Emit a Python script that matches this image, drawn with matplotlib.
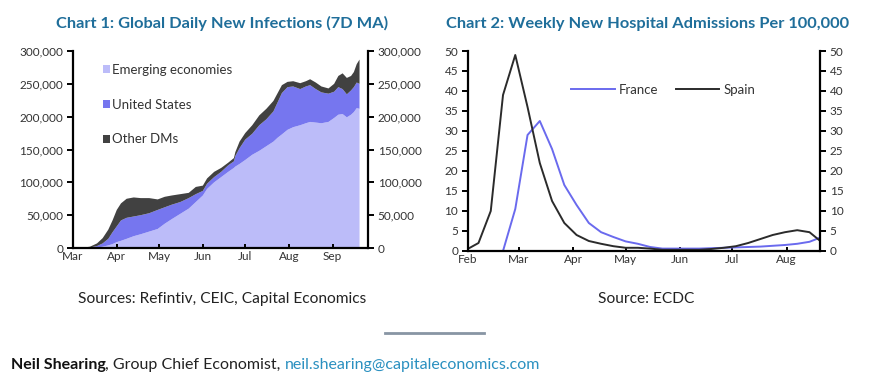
import matplotlib
matplotlib.use("Agg")
import matplotlib.pyplot as plt
import matplotlib.dates as mdates
import numpy as np
import pandas as pd

plt.rcParams['font.family'] = ['Lato', 'DejaVu Sans']

# *** DATA - CHART 1 (thousands) *** #
c1_dates = ["2020-03-01", "2020-03-08", "2020-03-13", "2020-03-18", "2020-03-22", "2020-03-26",
            "2020-03-29", "2020-04-01", "2020-04-04", "2020-04-08", "2020-04-13", "2020-04-18",
            "2020-04-24", "2020-04-30", "2020-05-05", "2020-05-10", "2020-05-16", "2020-05-22",
            "2020-05-27", "2020-06-01", "2020-06-04", "2020-06-09", "2020-06-14", "2020-06-19",
            "2020-06-23", "2020-06-24", "2020-06-27", "2020-07-01", "2020-07-06", "2020-07-11",
            "2020-07-16", "2020-07-21", "2020-07-24", "2020-07-27", "2020-07-31", "2020-08-04",
            "2020-08-09", "2020-08-13", "2020-08-16", "2020-08-20", "2020-08-24", "2020-08-29",
            "2020-09-02", "2020-09-05", "2020-09-08", "2020-09-11", "2020-09-14", "2020-09-16",
            "2020-09-18", "2020-09-20"]
emerging = [0, 0, 0.3, 1, 2, 4, 6, 9, 11, 14, 18, 21, 25, 29, 37, 44, 52, 60, 70, 80,
            90, 100, 108, 116, 122, 124, 128, 134, 142, 148, 155, 162, 168, 173, 180, 184,
            187, 190, 192, 191, 190, 192, 198, 203, 204, 199, 203, 207, 213, 212]
united_states = [0, 0, 0.5, 2, 5, 10, 18, 24, 31, 32, 30, 29, 28, 29, 25, 22, 18, 16, 12, 7,
                 8, 8, 8, 10, 10, 16, 24, 31, 32, 39, 41, 46, 54, 63, 65, 62,
                 55, 56, 56, 51, 47, 43, 40, 42, 38, 35, 37, 38, 39, 38]
other_dms = [0, 0.5, 1.2, 4, 8, 14, 18, 25, 26, 29, 29, 26, 23, 16, 16, 14, 12, 8, 11, 8,
             8, 8, 6, 4, 5, 6, 10, 10, 13, 15, 16, 16, 14, 12, 8, 8,
             9, 8, 9, 10, 9, 8, 12, 17, 24, 25, 22, 23, 28, 37]
c1_labels = ["Emerging economies", "United States", "Other DMs"]

# *** DATA - CHART 2 (weekly, per 100,000) *** #
c2_dates = pd.date_range("2020-01-31", periods=30, freq="7D")
spain = [0.3, 2, 10, 39, 49, 36, 22, 12.5, 7, 4, 2.5, 1.8, 1.2, 0.8, 0.8, 0.6, 0.3, 0.3,
         0.3, 0.3, 0.5, 0.8, 1.2, 2.0, 3.0, 4.0, 4.7, 5.2, 4.7, 2.2]
france = [np.nan, np.nan, np.nan, 0, 10.5, 29, 32.5, 25.5, 16.5, 11.5, 7, 4.7, 3.5, 2.4, 1.8,
          1.0, 0.6, 0.6, 0.6, 0.6, 0.7, 0.8, 0.9, 1.0, 1.1, 1.3, 1.5, 1.8, 2.3, 3.5]

TITLE_COL = "#1f6e9a"
TICK_COL = "#333333"
EM_COL = "#bcbcf9"
US_COL = "#7676ef"
DM_COL = "#414141"


def styleAxis(ax):
    ax.spines['top'].set_visible(False)
    for s in ['left', 'right', 'bottom']:
        ax.spines[s].set_linewidth(1.6)
        ax.spines[s].set_color("black")
    ax.tick_params(axis='y', which='both', direction='out', length=4, width=1.4,
                   left=True, right=True, labelleft=True, labelright=True,
                   labelsize=8.5, labelcolor=TICK_COL, pad=3)
    ax.tick_params(axis='x', direction='in', length=3, width=1.4,
                   labelsize=8.5, labelcolor=TICK_COL, pad=2)
    ax.xaxis.set_major_locator(mdates.MonthLocator())
    ax.xaxis.set_major_formatter(mdates.DateFormatter("%b"))


fig = plt.figure(figsize=(8.84, 3.72), dpi=100)

# ************ #
# *** CH 1 *** #
# ************ #
ax1 = fig.add_axes([0.0826, 0.3333, 0.3337, 0.5296])
x1 = pd.to_datetime(c1_dates)
ax1.stackplot(x1, np.array(emerging) * 1000, np.array(united_states) * 1000,
              np.array(other_dms) * 1000, colors=[EM_COL, US_COL, DM_COL],
              labels=c1_labels, linewidth=0)
ax1.set_ylim(0, 300000)
ax1.set_yticks(np.arange(0, 300001, 50000))
ax1.yaxis.set_major_formatter(matplotlib.ticker.FuncFormatter(lambda v, p: f"{int(v):,}"))
ax1.set_xlim(pd.Timestamp("2020-03-01"), pd.Timestamp("2020-09-26"))
styleAxis(ax1)
ax1.legend(loc='upper left', bbox_to_anchor=(0.06, 0.995), frameon=False, fontsize=9.5,
           handlelength=0.55, handleheight=0.55, handletextpad=0.2, labelspacing=1.72,
           labelcolor="#333333")
fig.text(0.251, 0.938, "Chart 1: Global Daily New Infections (7D MA)", ha='center',
         va='center', fontsize=11.8, fontweight='bold', color=TITLE_COL)
fig.text(0.251, 0.196, "Sources: Refintiv, CEIC, Capital Economics", ha='center',
         va='center', fontsize=11.2, color="#222222")

# ************ #
# *** CH 2 *** #
# ************ #
ax2 = fig.add_axes([0.5294, 0.3253, 0.3982, 0.5376])
ax2.plot(c2_dates, france, color="#6a6aee", linewidth=1.4, label="France")
ax2.plot(c2_dates, spain, color="#2b2b2b", linewidth=1.4, label="Spain")
ax2.set_ylim(0, 50)
ax2.set_yticks(np.arange(0, 51, 5))
ax2.set_xlim(pd.Timestamp("2020-02-01"), pd.Timestamp("2020-08-20"))
styleAxis(ax2)
ax2.legend(loc='upper left', bbox_to_anchor=(0.26, 0.895), ncol=2, frameon=False,
           fontsize=9.5, handlelength=3.3, handletextpad=0.3, columnspacing=1.3,
           labelcolor="#333333")
fig.text(0.732, 0.935, "Chart 2: Weekly New Hospital Admissions Per 100,000", ha='center',
         va='center', fontsize=11.8, fontweight='bold', color=TITLE_COL)
fig.text(0.731, 0.196, "Source: ECDC", ha='center', va='center', fontsize=11.2,
         color="#222222")

# *** FOOTER *** #
fig.add_artist(matplotlib.lines.Line2D([0.436, 0.548], [0.105, 0.105], color="#8895a4",
                                       linewidth=2, transform=fig.transFigure))
t = fig.text(0.012, 0.02, "Neil Shearing", ha='left', va='center', fontsize=11.5,
             fontweight='bold', color="#111111")
t2 = fig.text(0.0, 0.0, ", Group Chief Economist, ", fontsize=11.5, color="#222222")
fig.canvas.draw()
bb = t.get_window_extent()
t2.set_transform(matplotlib.transforms.IdentityTransform())
t2.set_position((bb.x1, bb.y0 + bb.height / 2))
t2.set_va('center')
fig.canvas.draw()
bb2 = t2.get_window_extent()
t3 = fig.text(0, 0, "neil.shearing@capitaleconomics.com", fontsize=11.5, color="#2a90c0",
              va='center', transform=matplotlib.transforms.IdentityTransform())
t3.set_position((bb2.x1, bb.y0 + bb.height / 2))

fig.savefig("out.png", dpi=100)
